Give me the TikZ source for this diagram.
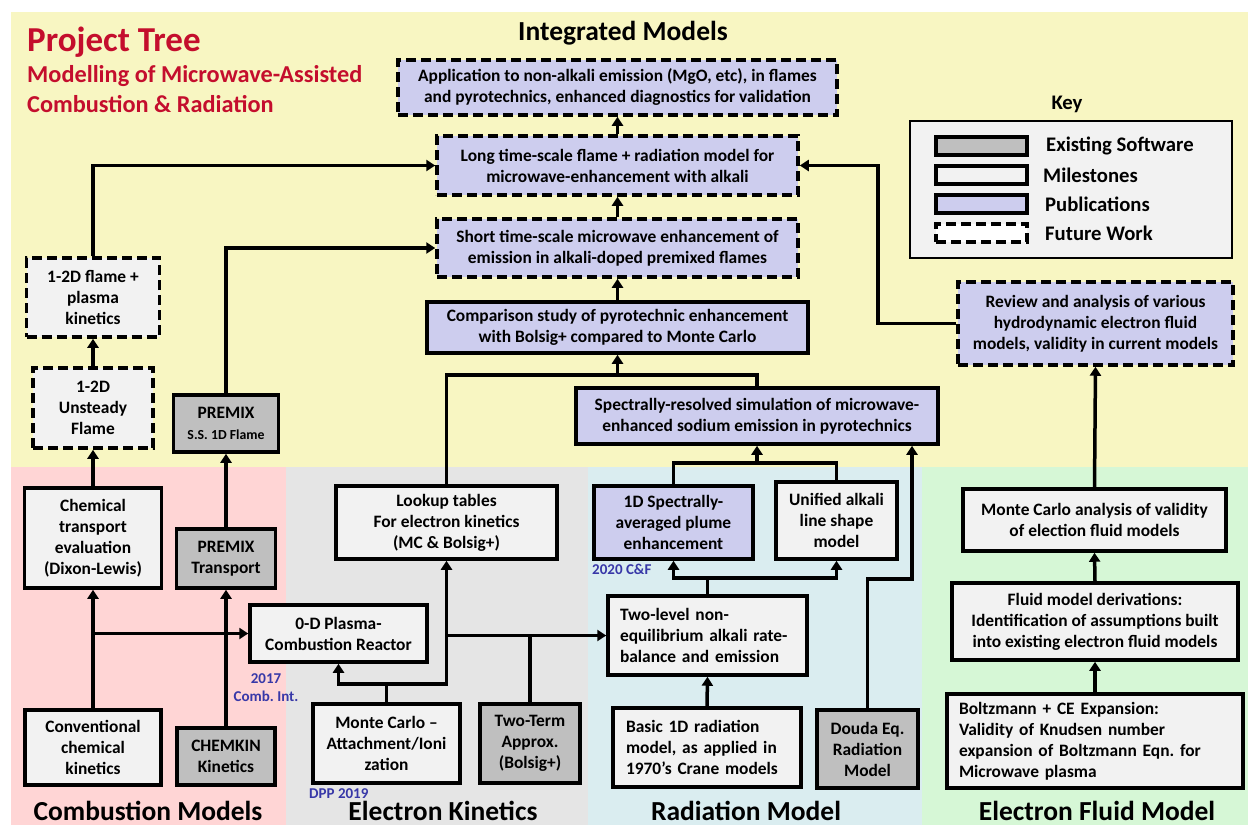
\documentclass[tikz,border=0pt]{standalone}
\usepackage{fontspec}
\setmainfont{Carlito}
\frenchspacing
\usetikzlibrary{arrows.meta}
\definecolor{bgyellow}{HTML}{F8F6C2}
\definecolor{bgpink}{HTML}{FFD5D5}
\definecolor{bggray}{HTML}{E5E5E5}
\definecolor{bgblue}{HTML}{DAEDF0}
\definecolor{bggreen}{HTML}{D6F7D6}
\definecolor{boxlight}{HTML}{F2F2F2}
\definecolor{boxdark}{HTML}{BFBFBF}
\definecolor{boxlav}{HTML}{CDCDEE}
\definecolor{titlered}{HTML}{C40E2D}
\definecolor{pubblue}{HTML}{3838A8}
\tikzset{
  basebox/.style={draw, line width=3.5pt, align=center, inner sep=2pt,
    font=\fontsize{17.4}{21}\selectfont\bfseries},
  mile/.style={basebox, fill=boxlight},
  soft/.style={basebox, fill=boxdark},
  pub/.style={basebox, fill=boxlav},
  future/.style={dash pattern=on 10pt off 5pt},
  leftbox/.style={align=left, inner xsep=0pt},
  conn/.style={line width=3.5pt},
  arr/.style={conn, -{Triangle[length=9pt,width=11pt]}},
  area/.style={font=\fontsize{27.5}{31}\selectfont\bfseries},
  blue/.style={text=pubblue, font=\fontsize{15}{18}\selectfont\bfseries, inner sep=0pt},
  keylabel/.style={anchor=west, font=\fontsize{20.7}{24}\selectfont\bfseries, inner sep=0pt}
}
\begin{document}
\begin{tikzpicture}[x=1pt,y=-1pt]
\useasboundingbox (0,0) rectangle (1248,825);
% backgrounds
\fill[white] (0,0) rectangle (1248,825);
\fill[bgyellow] (11,12) rectangle (1248,467);
\fill[bgpink] (11,467) rectangle (286,825);
\fill[bggray] (286,467) rectangle (588,825);
\fill[bgblue] (588,467) rectangle (922,825);
\fill[bggreen] (922,467) rectangle (1248,825);

% titles
\node[anchor=west, text=titlered, font=\fontsize{35}{38}\selectfont\bfseries, inner sep=0pt] (title) at (27,42) {Project Tree};
\node[anchor=north west, align=left, text=titlered, font=\fontsize{24.3}{30}\selectfont\bfseries, inner sep=0pt] (subtitle) at (27,65) {Modelling of Microwave-Assisted\\Combustion \& Radiation};
\node[area] (tint) at (623,33) {Integrated Models};
\node[area] (tcomb) at (148,811) {Combustion Models};
\node[area] (tek) at (443,811) {Electron Kinetics};
\node[area] (trad) at (746,811) {Radiation Model};
\node[area] (tfluid) at (1097,811) {Electron Fluid Model};

% key
\node[font=\fontsize{20.7}{24}\selectfont\bfseries] (keyt) at (1067,104) {Key};
\node[draw, line width=2pt, fill=boxlight, minimum width=322, minimum height=137] (keybox) at (1071,189.5) {};
\node[soft, minimum width=91, minimum height=18, inner sep=0pt] (k1) at (981.5,146) {};
\node[mile, minimum width=91, minimum height=18, inner sep=0pt] (k2) at (981.5,175) {};
\node[pub, minimum width=91, minimum height=18, inner sep=0pt] (k3) at (981.5,204) {};
\node[basebox, future, fill=white, minimum width=91, minimum height=18, inner sep=0pt] (k4) at (981.5,233) {};
\node[keylabel] (kl1) at (1046,146) {Existing Software};
\node[keylabel] (kl2) at (1043,175) {Milestones};
\node[keylabel] (kl3) at (1045,204) {Publications};
\node[keylabel] (kl4) at (1045,233) {Future Work};

% integrated models
\node[pub, future, minimum width=439, minimum height=55] (A) at (617.5,87.5) {Application to non-alkali emission (MgO, etc), in flames\\and pyrotechnics, enhanced diagnostics for validation};
\node[pub, future, minimum width=361, minimum height=59] (B) at (617.5,165.5) {Long time-scale flame + radiation model for\\microwave-enhancement with alkali};
\node[pub, future, minimum width=361, minimum height=58] (C) at (617.5,248) {Short time-scale microwave enhancement of\\emission in alkali-doped premixed flames};
\node[pub, minimum width=381, minimum height=51] (D) at (617.5,327.5) {Comparison study of pyrotechnic enhancement\\with Bolsig+ compared to Monte Carlo};
\node[pub, minimum width=362, minimum height=56] (E) at (757,416) {Spectrally-resolved simulation of microwave-\\enhanced sodium emission in pyrotechnics};
\node[pub, future, minimum width=275, minimum height=83] (F) at (1095.5,323.5) {Review and analysis of various\\hydrodynamic electron fluid\\models, validity in current models};

% combustion
\node[mile, future, minimum width=133, minimum height=79] (G) at (93,297.5) {1-2D flame +\\plasma\\kinetics};
\node[mile, future, minimum width=120, minimum height=80] (H) at (93,408) {1-2D\\Unsteady\\Flame};
\node[soft, minimum width=105, minimum height=57] (I) at (226,423.5) {PREMIX\\{\fontsize{13.8}{17}\selectfont S.S. 1D Flame}};
\node[mile, minimum width=137, minimum height=100] (J) at (93,538) {Chemical\\transport\\evaluation\\(Dixon-Lewis)};
\node[soft, minimum width=99, minimum height=59] (K) at (226,558.5) {PREMIX\\Transport};
\node[mile, minimum width=136, minimum height=75] (L) at (93,747.5) {Conventional\\chemical\\kinetics};
\node[soft, minimum width=98, minimum height=57] (M) at (226,756.5) {CHEMKIN\\Kinetics};
\node[blue, align=center] (lab2017) at (266,688) {2017\\Comb. Int.};

% electron kinetics
\node[mile, minimum width=177, minimum height=57] (N) at (338.5,633.5) {0-D Plasma-\\Combustion Reactor};
\node[mile, minimum width=221, minimum height=73] (O) at (446.5,522.5) {Lookup tables\\For electron kinetics\\(MC \& Bolsig+)};
\node[mile, minimum width=147, minimum height=79] (P) at (386.5,743.5) {Monte Carlo –\\Attachment/Ioni\\zation};
\node[soft, minimum width=100, minimum height=79] (Q) at (530,743.5) {Two-Term\\Approx.\\(Bolsig+)};
\node[blue, anchor=west] (labdpp) at (309,794) {DPP 2019};

% radiation
\node[pub, minimum width=159, minimum height=73] (S) at (673.5,522.5) {1D Spectrally-\\averaged plume\\enhancement};
\node[mile, minimum width=121, minimum height=77] (T) at (836.5,520.5) {Unified alkali\\line shape\\model};
\node[blue, anchor=west] (labcf) at (592,569) {2020 C\&F};
\node[mile, leftbox, text width=175, minimum width=199, minimum height=79] (R) at (707.5,635.5) {Two-level non-\\equilibrium alkali rate-\\balance and emission};
\node[mile, leftbox, text width=162, minimum width=188, minimum height=79] (U) at (707,747.5) {Basic 1D radiation\\model, as applied in\\1970’s Crane models};
\node[soft, minimum width=101, minimum height=78] (V) at (867.5,749) {Douda Eq.\\Radiation\\Model};

% electron fluid
\node[mile, minimum width=263, minimum height=62] (W) at (1094.5,520) {Monte Carlo analysis of validity\\of election fluid models};
\node[mile, minimum width=286, minimum height=77] (X) at (1095,621.5) {Fluid model derivations:\\Identification of assumptions built\\into existing electron fluid models};
\node[mile, leftbox, text width=272, minimum width=296, minimum height=94] (Y) at (1095,741) {Boltzmann + CE Expansion:\\Validity of Knudsen number\\expansion of Boltzmann Eqn. for\\Microwave plasma};

% connectors - integrated
\draw[arr] (B.north) -- (A.south);
\draw[arr] (C.north) -- (B.south);
\draw[arr] (D.north) -- (C.south);
\coordinate (jd) at (617.5,375);
\draw[arr] (O.north) |- (jd) -- (D.south);
\draw[conn] (E.north) |- (jd);
\draw[arr] (G.north) |- (B.west);
\draw[arr] (I.north) |- (C.west);
\coordinate (jf) at (878,300);
\draw[arr] (F.west) -| (jf |- B.east) -- (B.east);

% combustion
\draw[arr] (H.north) -- (G.south);
\draw[arr] (J.north) -- (H.south);
\draw[arr] (K.north) -- (I.south);
\draw[arr] (M.north) -- (K.south);
\draw[arr] (L.north) -- (J.south);
\draw[arr] (L.north |- N.west) -- (N.west);

% electron kinetics
\coordinate (jp) at (386.5,684);
\draw[conn] (P.north) -- (jp);
\draw[arr] (jp) -| (N.south);
\draw[arr] (jp) -| (O.south);
\draw[arr] (Q.north) |- (R.west);
\draw[conn] (O.south |- R.west) -- (Q.north |- R.west);

% radiation
\draw[arr] (U.north) -- (R.south);
\coordinate (jr) at (707.5,578);
\draw[conn] (R.north) -- (jr);
\draw[arr] (jr) -| (S.south);
\draw[arr] (jr) -| (T.south);
\coordinate (je) at (757,463);
\draw[conn] (S.north) |- (je) -| (T.north);
\draw[arr] (je) -- (E.south);
\coordinate (jv) at (912,579);
\draw[arr] (V.north) |- (jv) -- (jv |- E.south);

% electron fluid
\draw[arr] (Y.north) -- (X.south);
\draw[arr] (X.north) -- (W.south);
\draw[arr] (W.north) -- (F.south);
\end{tikzpicture}
\end{document}
